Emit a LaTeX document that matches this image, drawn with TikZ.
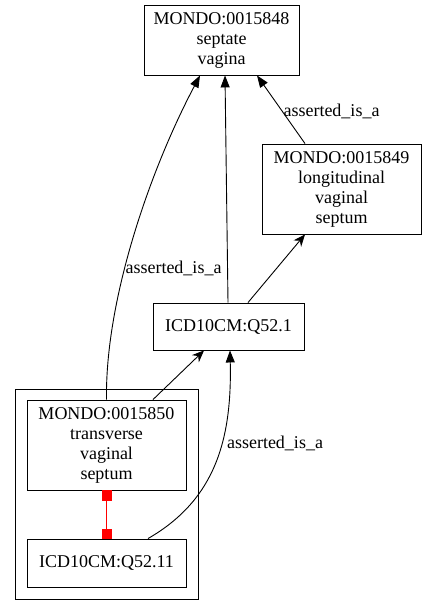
\documentclass[tikz,border=0pt]{standalone}
\usepackage{fontspec}
\setmainfont{Liberation Serif}
\usetikzlibrary{arrows.meta,calc}
\begin{document}
\begin{tikzpicture}[x=1pt,y=-1pt,
  every node/.style={font=\fontsize{18}{20}\selectfont, inner sep=0pt},
  term/.style={draw, line width=0.9pt, rectangle, align=center},
  lbl/.style={},
  isa/.style={line width=0.9pt, -{Triangle[length=12pt,width=9pt]}},
  sub/.style={line width=0.9pt, -{Stealth[length=12pt,width=10pt,inset=4pt]}},
  eqv/.style={red, line width=0.9pt, {Square[length=10pt,width=10pt]}-{Square[length=10pt,width=10pt]}}
]
\useasboundingbox (0,0) rectangle (426,615);
\draw[line width=0.9pt] (15,389) rectangle (198,599);
\node[term, minimum width=155pt, minimum height=70pt] (m48) at (221.5,40) {MONDO:0015848\\septate\\vagina};
\node[term, minimum width=159pt, minimum height=90pt] (m49) at (341.5,189) {MONDO:0015849\\longitudinal\\vaginal\\septum};
\node[term, minimum width=151pt, minimum height=47pt] (q521) at (228.5,326.5) {ICD10CM:Q52.1};
\node[term, minimum width=159pt, minimum height=90pt] (m50) at (106.5,445) {MONDO:0015850\\transverse\\vaginal\\septum};
\node[term, minimum width=159pt, minimum height=48pt] (q5211) at (106.5,563) {ICD10CM:Q52.11};
% edges
\draw[isa] (m50.north) .. controls (105,300) and (150,170) .. ($(m48.south)+(-21.5,0)$);
\node[lbl] (l1) at (173.5,268) {asserted\_is\_a};
\draw[isa] ($(q521.north)+(-0.5,0)$) -- ($(m48.south)+(3.5,0)$);
\draw[isa] ($(m49.north)+(-36.5,0)$) -- ($(m48.south)+(35.5,0)$);
\node[lbl] (l2) at (331.5,111) {asserted\_is\_a};
\draw[sub] ($(q521.north)+(19.5,0)$) -- ($(m49.south)+(-36.5,0)$);
\draw[sub] ($(m50.north)+(46.5,0)$) -- ($(q521.south)+(-24.5,0)$);
\draw[isa] ($(q5211.north)+(41.5,0)$) .. controls (215,500) and (232,440) .. ($(q521.south)+(1.5,0)$);
\node[lbl] (l3) at (275,443) {asserted\_is\_a};
\draw[eqv] (m50.south) -- (q5211.north);
\end{tikzpicture}
\end{document}
